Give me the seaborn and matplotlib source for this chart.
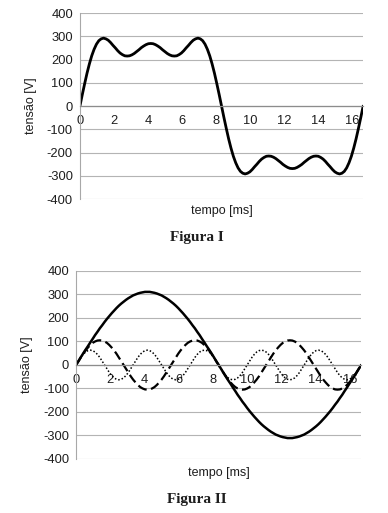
import numpy as np
import pandas as pd
import matplotlib
matplotlib.use("Agg")
import matplotlib.pyplot as plt
import seaborn as sns

# tempo [ms] - one period of 60 Hz, 121 samples
tempo = np.linspace(0, 50 / 3, 121)

# Figura I - resulting voltage [V]
resultante = [0, 49, 96, 141, 181, 216, 244, 266, 281, 289, 292, 289, 283, 273, 261, 250,
              238, 228, 221, 216, 215, 216, 220, 226, 234, 242, 251, 258, 264, 268, 269,
              268, 264, 258, 251, 242, 234, 226, 220, 216, 215, 216, 221, 228, 238, 250,
              261, 273, 283, 289, 292, 289, 281, 266, 244, 216, 181, 141, 96, 49, 0,
              -49, -96, -141, -181, -216, -244, -266, -281, -289, -292, -289, -283, -273, -261, -250,
              -238, -228, -221, -216, -215, -216, -220, -226, -234, -242, -251, -258, -264, -268, -269,
              -268, -264, -258, -251, -242, -234, -226, -220, -216, -215, -216, -221, -228, -238, -250,
              -261, -273, -283, -289, -292, -289, -281, -266, -244, -216, -181, -141, -96, -49, 0]

# Figura II - fundamental, 3rd and 5th harmonic [V]
fundamental = [0, 16, 33, 49, 65, 80, 96, 111, 127, 141, 156, 169, 183, 196, 208, 220,
               231, 242, 252, 261, 269, 277, 284, 290, 296, 300, 304, 307, 309, 311, 311,
               311, 309, 307, 304, 300, 296, 290, 284, 277, 269, 261, 252, 242, 231, 220,
               208, 196, 183, 169, 156, 141, 127, 111, 96, 80, 65, 49, 33, 16, 0,
               -16, -33, -49, -65, -80, -96, -111, -127, -141, -156, -169, -183, -196, -208, -220,
               -231, -242, -252, -261, -269, -277, -284, -290, -296, -300, -304, -307, -309, -311, -311,
               -311, -309, -307, -304, -300, -296, -290, -284, -277, -269, -261, -252, -242, -231, -220,
               -208, -196, -183, -169, -156, -141, -127, -111, -96, -80, -65, -49, -33, -16, 0]
harm3 = [0, 16, 32, 48, 62, 74, 85, 94, 100, 104, 105, 104, 100, 94, 85, 74, 62, 48, 32, 16,
         0, -16, -32, -48, -62, -74, -85, -94, -100, -104, -105, -104, -100, -94, -85, -74, -62, -48, -32, -16,
         0, 16, 32, 48, 62, 74, 85, 94, 100, 104, 105, 104, 100, 94, 85, 74, 62, 48, 32, 16,
         0, -16, -32, -48, -62, -74, -85, -94, -100, -104, -105, -104, -100, -94, -85, -74, -62, -48, -32, -16,
         0, 16, 32, 48, 62, 74, 85, 94, 100, 104, 105, 104, 100, 94, 85, 74, 62, 48, 32, 16,
         0, -16, -32, -48, -62, -74, -85, -94, -100, -104, -105, -104, -100, -94, -85, -74, -62, -48, -32, -16,
         0]
harm5 = [0, 16, 32, 45, 55, 61, 63, 61, 55, 45, 32, 16, 0, -16, -32, -45, -55, -61, -63, -61, -55, -45, -32, -16,
         0, 16, 32, 45, 55, 61, 63, 61, 55, 45, 32, 16, 0, -16, -32, -45, -55, -61, -63, -61, -55, -45, -32, -16,
         0, 16, 32, 45, 55, 61, 63, 61, 55, 45, 32, 16, 0, -16, -32, -45, -55, -61, -63, -61, -55, -45, -32, -16,
         0, 16, 32, 45, 55, 61, 63, 61, 55, 45, 32, 16, 0, -16, -32, -45, -55, -61, -63, -61, -55, -45, -32, -16,
         0, 16, 32, 45, 55, 61, 63, 61, 55, 45, 32, 16, 0, -16, -32, -45, -55, -61, -63, -61, -55, -45, -32, -16,
         0]

yticks = list(range(-400, 401, 100))
xticks = [0, 2, 4, 6, 8, 10, 12, 14, 16]

df = pd.DataFrame({"tempo": tempo, "res": resultante, "f1": fundamental,
                   "h3": harm3, "h5": harm5})

sns.set_style("white")
plt.rcParams["font.family"] = ["Liberation Sans", "DejaVu Sans"]
plt.rcParams["axes.unicode_minus"] = False
txt = "#1e1e1e"

fig = plt.figure(figsize=(3.88, 5.13), dpi=100)
ax1 = fig.add_axes([0.206, 0.612, 0.730, 0.3626])
ax2 = fig.add_axes([0.196, 0.1053, 0.735, 0.3665])


def style_axes(ax, lbl_y):
    ax.set_xlim(0, 50 / 3)
    ax.set_ylim(-400, 400)
    ax.set_yticks(yticks)
    ax.set_xticks(xticks)
    ax.grid(axis="y", color="#b4b4b4", lw=0.8)
    ax.grid(axis="x", visible=False)
    ax.set_axisbelow(True)
    for s in ["top", "right"]:
        ax.spines[s].set_visible(False)
    ax.spines["left"].set_color("#a8a8a8")
    ax.spines["left"].set_linewidth(0.8)
    ax.spines["bottom"].set_position(("data", 0))
    ax.spines["bottom"].set_color("#8c8c8c")
    ax.spines["bottom"].set_linewidth(0.9)
    ax.tick_params(axis="y", length=0, pad=5, labelsize=9.3, labelcolor=txt)
    ax.tick_params(axis="x", direction="out", length=2.5, width=0.8, color="#8c8c8c",
                   pad=4, labelsize=9.3, labelcolor=txt)
    ax.set_xlabel("tempo [ms]", fontsize=9, color=txt)
    ax.xaxis.set_label_coords(0.5, lbl_y)
    ax.set_ylabel("tensão [V]", fontsize=9, color=txt)
    ax.yaxis.set_label_coords(-0.15, 0.5)


sns.lineplot(data=df, x="tempo", y="res", ax=ax1, color="black", lw=2.0)
style_axes(ax1, -0.03)

sns.lineplot(data=df, x="tempo", y="f1", ax=ax2, color="black", lw=1.8)
sns.lineplot(data=df, x="tempo", y="h3", ax=ax2, color="black", lw=1.6,
             linestyle=(0, (4.2, 2)))
sns.lineplot(data=df, x="tempo", y="h5", ax=ax2, color="black", lw=1.1,
             linestyle=(0, (1, 1.3)))
style_axes(ax2, -0.045)

fig.text(0.508, 1 - 238 / 513, "Figura I", ha="center", va="center",
         fontsize=11, fontweight="bold", family="Liberation Serif", color=txt)
fig.text(0.508, 1 - 500 / 513, "Figura II", ha="center", va="center",
         fontsize=11, fontweight="bold", family="Liberation Serif", color=txt)

fig.savefig("out.png", dpi=100)
